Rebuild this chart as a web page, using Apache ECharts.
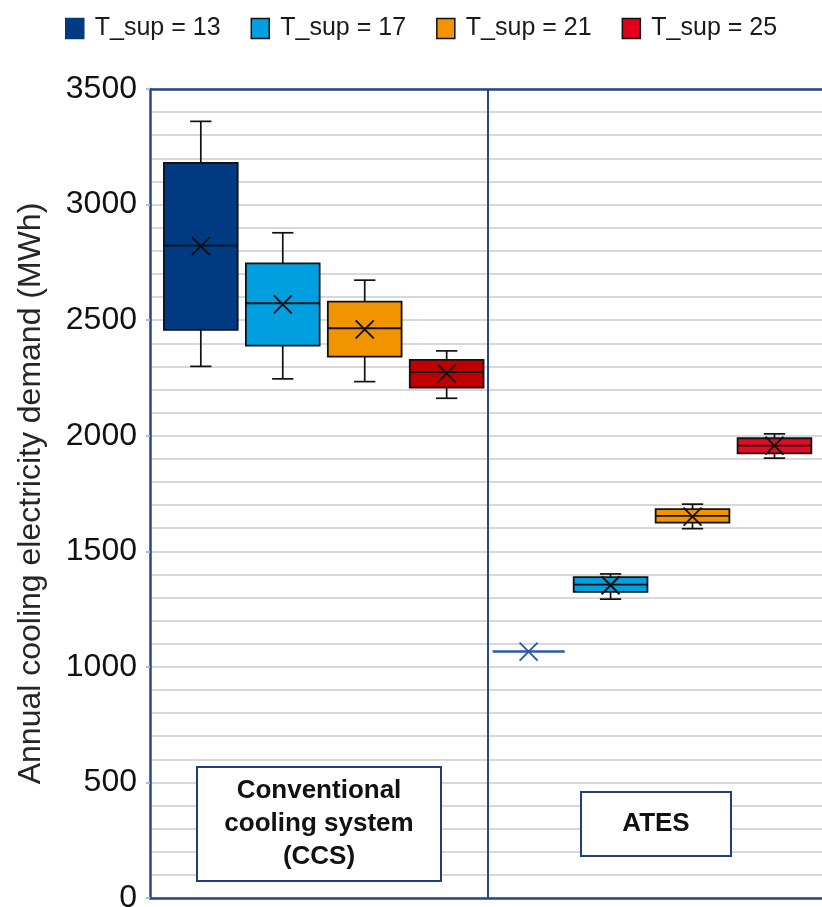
<!DOCTYPE html>
<html>
<head>
<meta charset="utf-8">
<script src="https://cdn.jsdelivr.net/npm/echarts@6/dist/echarts.min.js"></script>
<style>
  html, body { margin: 0; padding: 0; background: #ffffff; }
  #chart { width: 822px; height: 907px; }
</style>
</head>
<body>
<div id="chart"></div>
<script>
// Supply-temperature scenarios (one series each)
const seriesNames = ['T_sup = 13', 'T_sup = 17', 'T_sup = 21', 'T_sup = 25'];
// System groups along the horizontal axis
const systemLabels = ['Conventional\ncooling system\n(CCS)', 'ATES'];

// Five-number summaries [min, Q1, median, Q3, max] in MWh, one row per scenario
const ccsStats = [
  [2300, 2458, 2822, 3180, 3360],
  [2246, 2390, 2573, 2746, 2878],
  [2234, 2342, 2465, 2580, 2673],
  [2162, 2208, 2275, 2328, 2367]
];
const ccsMean = [2820, 2568, 2460, 2270];

const atesStats = [
  [1066, 1066, 1066, 1066, 1066],
  [1293, 1324, 1356, 1388, 1402],
  [1598, 1624, 1653, 1682, 1704],
  [1903, 1924, 1957, 1989, 2008]
];
const atesMean = [1066, 1353, 1650, 1957];

// Value axis range and labelled tick step
const yMin = 0;
const yMax = 3500;
const yStep = 500;

// Fill colours per scenario
const fillCCS = ['#003A80', '#009FE0', '#F29400', '#C00000'];
const fillATES = ['#003A80', '#009FE0', '#F29400', '#E30B24'];
const legendFill = ['#003A80', '#009FE0', '#F29400', '#E2001A'];
const legendBorder = ['#003A80', '#111111', '#111111', '#111111'];
const frameBlue = '#24478F';
const flatBlue = '#2F5B9E';

const FONT = '"Liberation Sans", Arial, sans-serif';
const nGroup = seriesNames.length;

function renderBox(params, api) {
  const group = params.dataIndexInside;          // 0 = CCS, 1 = ATES
  const si = params.seriesIndex;
  const x = api.value(0);
  const v = [1, 2, 3, 4, 5].map(function (k) { return api.value(k); });
  const mean = api.value(6);
  const unit = api.size([1, 0])[0];
  const bw = unit * 0.9;
  const cw = unit * 0.26;
  const mk = 9;
  const cx = api.coord([x, v[2]])[0];
  const y = v.map(function (val) { return api.coord([x, val])[1]; });
  const my = api.coord([x, mean])[1];
  const flat = v[0] === v[4];
  const children = [];

  if (flat) {
    children.push({
      type: 'line',
      shape: { x1: cx - unit * 0.44, y1: y[2], x2: cx + unit * 0.44, y2: y[2] },
      style: { stroke: flatBlue, lineWidth: 2.5 }
    });
  } else {
    const ink = { stroke: '#111111', lineWidth: 1.7 };
    children.push(
      { type: 'line', shape: { x1: cx, y1: y[4], x2: cx, y2: y[3] }, style: ink },
      { type: 'line', shape: { x1: cx, y1: y[0], x2: cx, y2: y[1] }, style: ink },
      { type: 'line', shape: { x1: cx - cw / 2, y1: y[4], x2: cx + cw / 2, y2: y[4] }, style: ink },
      { type: 'line', shape: { x1: cx - cw / 2, y1: y[0], x2: cx + cw / 2, y2: y[0] }, style: ink },
      {
        type: 'rect',
        shape: { x: cx - bw / 2, y: y[3], width: bw, height: y[1] - y[3] },
        style: { fill: (group === 0 ? fillCCS : fillATES)[si], stroke: '#111111', lineWidth: 1.8 }
      },
      { type: 'line', shape: { x1: cx - bw / 2, y1: y[2], x2: cx + bw / 2, y2: y[2] }, style: { stroke: '#111111', lineWidth: 1.8 } }
    );
  }
  const xc = flat ? flatBlue : '#111111';
  children.push(
    { type: 'line', shape: { x1: cx - mk, y1: my - mk, x2: cx + mk, y2: my + mk }, style: { stroke: xc, lineWidth: 1.9 } },
    { type: 'line', shape: { x1: cx - mk, y1: my + mk, x2: cx + mk, y2: my - mk }, style: { stroke: xc, lineWidth: 1.9 } }
  );
  return { type: 'group', children: children };
}

const series = seriesNames.map(function (name, i) {
  const s = {
    name: name,
    type: 'custom',
    renderItem: renderBox,
    xAxisIndex: 0,
    yAxisIndex: 0,
    itemStyle: { color: legendFill[i], borderColor: legendBorder[i], borderWidth: 1.5 },
    encode: { x: 0, y: [1, 2, 3, 4, 5, 6] },
    data: [
      [i].concat(ccsStats[i], [ccsMean[i]]),
      [nGroup + i].concat(atesStats[i], [atesMean[i]])
    ],
    z: 3
  };
  if (i === 0) {
    s.markLine = {
      silent: true,
      symbol: ['none', 'none'],
      label: { show: false },
      lineStyle: { color: frameBlue, width: 2, type: 'solid' },
      data: [{ xAxis: nGroup - 0.5 }]
    };
  }
  return s;
});

const chart = echarts.init(document.getElementById('chart'), null, { renderer: 'canvas' });

function annotation(text, left, top, width, height) {
  return {
    type: 'group',
    left: left,
    top: top,
    z: 100,
    children: [
      {
        type: 'rect',
        z: 100,
        shape: { x: 0, y: 0, width: width, height: height },
        style: { fill: '#ffffff', stroke: '#1F3F80', lineWidth: 2 }
      },
      {
        type: 'text',
        z: 101,
        x: width / 2,
        y: height / 2,
        style: {
          text: text,
          fill: '#111111',
          font: 'bold 26px ' + FONT,
          align: 'center',
          verticalAlign: 'middle',
          lineHeight: 33
        }
      }
    ]
  };
}

chart.setOption({
  animation: false,
  backgroundColor: '#ffffff',
  textStyle: { fontFamily: FONT },
  legend: {
    top: 16,
    left: 65,
    padding: 0,
    itemWidth: 18,
    itemHeight: 20,
    itemGap: 30,
    icon: 'rect',
    data: seriesNames.map(function (n, i) {
      return { name: n, itemStyle: { color: legendFill[i], borderColor: legendBorder[i], borderWidth: 1.5 } };
    }),
    textStyle: { fontSize: 25, color: '#1a1a1a', fontFamily: FONT, padding: [0, 0, 0, 6] }
  },
  grid: { left: 150, right: 0, top: 89, bottom: 9, containLabel: false, outerBoundsMode: 'none' },
  xAxis: [
    {
      type: 'value',
      min: -0.62,
      max: 7.58,
      position: 'bottom',
      axisLine: { show: true, onZero: false, lineStyle: { color: frameBlue, width: 2.5 } },
      axisTick: { show: false },
      axisLabel: { show: false },
      splitLine: { show: false }
    },
    {
      type: 'value',
      min: -0.62,
      max: 7.58,
      position: 'top',
      axisLine: { show: true, onZero: false, lineStyle: { color: frameBlue, width: 2.5 } },
      axisTick: { show: false },
      axisLabel: { show: false },
      splitLine: { show: false }
    }
  ],
  yAxis: {
    type: 'value',
    min: yMin,
    max: yMax,
    interval: yStep,
    name: 'Annual cooling electricity demand (MWh)',
    nameLocation: 'middle',
    nameGap: 103,
    nameTextStyle: { fontSize: 32, color: '#262626', fontFamily: FONT },
    axisLine: { show: true, onZero: false, lineStyle: { color: frameBlue, width: 2.5 } },
    axisTick: { show: true, length: 4, lineStyle: { color: '#9DC3E6', width: 2 } },
    axisLabel: {
      fontSize: 32,
      color: '#111111',
      margin: 13,
      fontFamily: FONT,
      formatter: function (val) { return String(val); }
    },
    splitLine: { show: true, lineStyle: { color: '#CBCBCB', width: 1.6 } },
    minorTick: { show: false, splitNumber: 5 },
    minorSplitLine: { show: true, lineStyle: { color: '#CBCBCB', width: 1.6 } }
  },
  graphic: [
    annotation(systemLabels[0], 196, 766, 244, 114),
    annotation(systemLabels[1], 580, 791, 150, 64)
  ],
  series: series
});
</script>
</body>
</html>
